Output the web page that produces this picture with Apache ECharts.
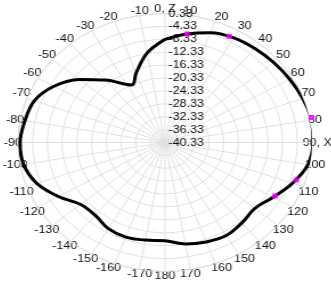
<!DOCTYPE html>
<html><head><meta charset="utf-8">
<script src="https://cdn.jsdelivr.net/npm/echarts@6/dist/echarts.min.js"></script>
<style>
html,body{margin:0;padding:0;width:331px;height:284px;overflow:hidden;background:#fff;}
#wrap{position:absolute;left:0;top:0;width:331px;height:284px;transform-origin:165px 142.5px;transform:scaleX(1.14);}
</style></head><body>
<div id="wrap"></div>
<script>
// angles in degrees, clockwise from Z (top); values in dB
const angles = [0,10,20,30,40,50,60,70,80,90,100,110,120,130,140,150,160,170,180,190,200,210,220,230,240,250,260,270,280,290,300,310,320,333,340,350,360];
const values = [-8.33,-6.16,-4.11,-2.87,-2.31,-1.76,-1.14,-0.45,0.14,-0.08,-0.86,-3.43,-6.38,-8.48,-7.80,-7.00,-7.52,-8.39,-9.85,-9.60,-9.13,-9.48,-10.84,-10.41,-6.84,-3.24,-1.26,-0.89,-1.63,-2.50,-5.45,-9.88,-15.06,-20.33,-17.38,-12.18,-8.33];
const markerAngles = [10, 28, 79, 108, 119];
const markerValues = [-6.16, -3.09, 0.20, -2.75, -6.13];
const radiusTickLabels = ['-40.33','-36.33','-32.33','-28.33','-24.33','-20.33','-16.33','-12.33','-8.33','-4.33','0.33'];
const angleTickValues = [0,10,20,30,40,50,60,70,80,90,100,110,120,130,140,150,160,170,180,190,200,210,220,230,240,250,260,270,280,290,300,310,320,330,340,350];
const angleTickLabels = ['0, Z','10','20','30','40','50','60','70','80','90, X','100','110','120','130','140','150','160','170','180','-170','-160','-150','-140','-130','-120','-110','-100','-90','-80','-70','-60','-50','-40','-30','-20','-10'];
const R_MIN = -40.33;
const R_STEP = 4;

const font = "'Liberation Sans', Arial, sans-serif";
const chart = echarts.init(document.getElementById('wrap'), null, {renderer:'canvas'});
chart.setOption({
  animation:false,
  polar:{center:[165,142.5], radius:129},
  angleAxis:{
    type:'value', min:0, max:360, interval:10, startAngle:90, clockwise:true,
    axisLine:{show:true, lineStyle:{color:'#dcdcdc', width:1}},
    axisTick:{show:false},
    axisLabel:{
      margin:-1.5, color:'#111', fontSize:11, fontFamily:font,
      formatter:function(v){ const i = angleTickValues.indexOf(Math.round(+v)); return i<0 ? '' : '{a|' + angleTickLabels[i] + '}'; },
      rich:{a:{width:12, height:12, lineHeight:12, align:'center', verticalAlign:'middle', color:'#111', fontSize:11, fontFamily:font}}
    },
    splitLine:{show:true, lineStyle:{color:'#e0e0e0', width:1}}
  },
  radiusAxis:{
    type:'value', min:0, max:(radiusTickLabels.length-1)*R_STEP, interval:R_STEP,
    axisLine:{show:false}, axisTick:{show:false},
    axisLabel:{
      color:'#111', fontSize:11, fontFamily:font, margin:-39,
      formatter:function(v){ const i = Math.round(v/R_STEP); return radiusTickLabels[i] ? '{b|' + radiusTickLabels[i] + '}' : ''; },
      rich:{b:{width:36, align:'left', color:'#111', fontSize:11, fontFamily:font}}
    },
    splitLine:{show:true, lineStyle:{color:'#e0e0e0', width:1}}
  },
  series:[
    {type:'line', coordinateSystem:'polar', clip:false, smooth:0.35, symbol:'none',
     lineStyle:{color:'#000', width:3},
     data: angles.map((a,i)=>[values[i]-R_MIN, a])},
    {type:'scatter', coordinateSystem:'polar', clip:false, symbol:'rect', symbolSize:5,
     itemStyle:{color:'#ff00ff'}, z:5,
     data: markerAngles.map((a,i)=>[markerValues[i]-R_MIN, a])}
  ]
});
</script>
</body></html>
